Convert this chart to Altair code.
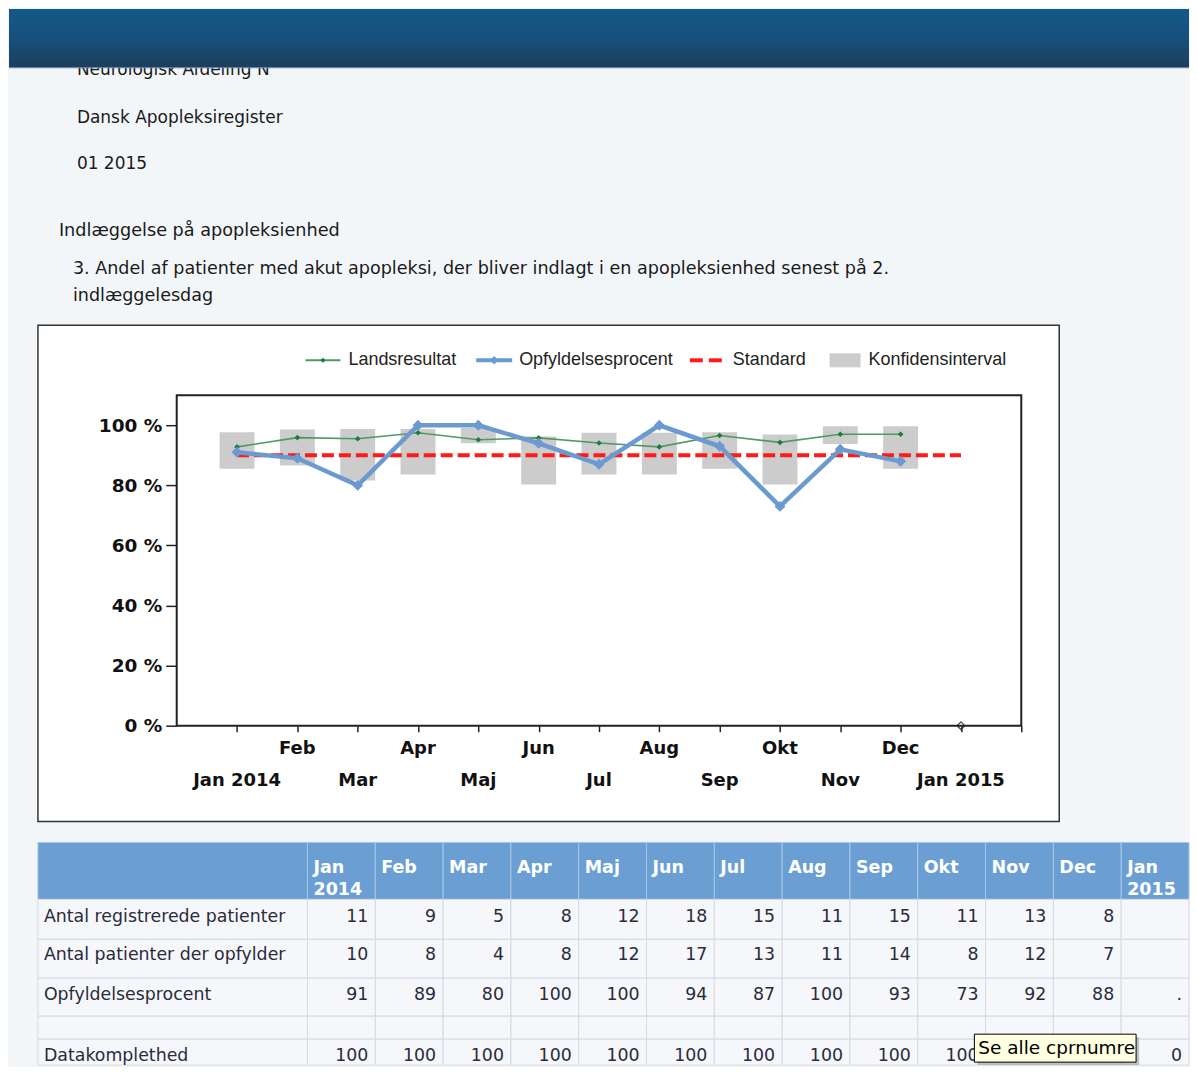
import altair as alt
import pandas as pd

# ---------------- data ----------------
months = ["Jan 2014", "Feb", "Mar", "Apr", "Maj", "Jun", "Jul", "Aug",
          "Sep", "Okt", "Nov", "Dec", "Jan 2015"]
opfyld = [91, 89, 80, 100, 100, 94, 87, 100, 93, 73, 92, 88]
lands = [92.8, 95.9, 95.5, 97.5, 95.2, 95.8, 94.1, 92.8, 96.6, 94.3, 97.0, 97.0]
ci_lo = [85.5, 86.6, 81.6, 83.6, 94.0, 80.3, 83.6, 83.6, 85.5, 80.3, 93.8, 85.5]
ci_hi = [97.7, 98.6, 98.8, 98.8, 99.1, 96.3, 97.5, 97.5, 97.7, 96.9, 99.7, 99.7]
standard = 90
missing_month = [12]
missing_value = [0]

hdr1 = ["Jan", "Feb", "Mar", "Apr", "Maj", "Jun", "Jul", "Aug", "Sep", "Okt", "Nov", "Dec", "Jan"]
hdr2 = ["2014", "", "", "", "", "", "", "", "", "", "", "", "2015"]
row_labels = ["Antal registrerede patienter", "Antal patienter der opfylder",
              "Opfyldelsesprocent", "", "Datakomplethed"]
registrerede = ["11", "9", "5", "8", "12", "18", "15", "11", "15", "11", "13", "8", ""]
opfylder = ["10", "8", "4", "8", "12", "17", "13", "11", "14", "8", "12", "7", ""]
procent = ["91", "89", "80", "100", "100", "94", "87", "100", "93", "73", "92", "88", "."]
tom = [""] * 13
komplet = ["100"] * 12 + ["0"]

page_texts = ["Neurologisk Afdeling N", "Dansk Apopleksiregister", "01 2015",
              "Indlæggelse på apopleksienhed",
              "3. Andel af patienter med akut apopleksi, der bliver indlagt i en apopleksienhed senest på 2.",
              "indlæggelesdag"]
legend_labels = ["Landsresultat", "Opfyldelsesprocent", "Standard", "Konfidensinterval"]
tooltip_text = "Se alle cprnumre"

# ---------------- style ----------------
DF = "DejaVu Sans"
LF = "Liberation Sans"
BG = "#f3f6f9"
BLUE = "#6a9ad0"
GREEN_L = "#4f9a62"
GREEN_P = "#1f7a3c"
RED = "#ff1a1a"
GRAY = "#cccccc"
HDR = "#6b9fd3"
W, H = 846, 331
RIGHT = 1014  # right edge of page content, relative to plot origin

one = pd.DataFrame({"k": [0]})


def txt(text, x, y, size=17, font=DF, weight="normal", color="#1a1a1a",
        align="left", baseline="alphabetic"):
    return alt.Chart(one).mark_text(
        text=text, font=font, fontSize=size, fontWeight=weight, color=color,
        align=align, baseline=baseline
    ).encode(x=alt.value(x), y=alt.value(y))


def box(x, x2, y, y2, **kw):
    return alt.Chart(one).mark_rect(**kw).encode(
        x=alt.value(x), x2=alt.value(x2), y=alt.value(y), y2=alt.value(y2))


def hrule(x, x2, y, **kw):
    return alt.Chart(one).mark_rule(**kw).encode(
        x=alt.value(x), x2=alt.value(x2), y=alt.value(y))


# ---------------- page decoration (behind) ----------------
grad = alt.LinearGradient(
    gradient="linear",
    stops=[alt.GradientStop(color="#13598a", offset=0),
           alt.GradientStop(color="#17507c", offset=0.5),
           alt.GradientStop(color="#1e3d5c", offset=1)],
    x1=0, x2=0, y1=0, y2=1)

LEG = 18
deco_back = alt.layer(
    txt(page_texts[0], -100, -321),
    box(-168, RIGHT, -387, -328, fill=grad),
    hrule(-168, RIGHT, -328, color="#6f93b5", strokeWidth=1),
    txt(page_texts[1], -100, -273),
    txt(page_texts[2], -100, -227),
    txt(page_texts[3], -118, -160, size=17.7),
    txt(page_texts[4], -104, -121, size=17.6),
    txt(page_texts[5], -104, -94, size=17.6),
    # chart frame
    box(-139, 884, -70, 427, fill="white", stroke="#333333", strokeWidth=1.5),
    # legend
    hrule(129, 164, -35, color=GREEN_L, strokeWidth=2),
    alt.Chart(one).mark_point(shape="diamond", filled=True, size=26, color=GREEN_P,
                              opacity=1).encode(x=alt.value(146.5), y=alt.value(-35)),
    txt(legend_labels[0], 172, -35, size=LEG, font=LF, color="#222", baseline="middle"),
    hrule(300, 336, -35, color=BLUE, strokeWidth=4),
    alt.Chart(one).mark_point(shape="diamond", filled=True, size=70, color=BLUE,
                              opacity=1).encode(x=alt.value(318), y=alt.value(-35)),
    txt(legend_labels[1], 343, -35, size=LEG, font=LF, color="#222", baseline="middle"),
    hrule(514, 527, -35, color=RED, strokeWidth=4),
    hrule(533, 546, -35, color=RED, strokeWidth=4),
    txt(legend_labels[2], 557, -35, size=LEG, font=LF, color="#222", baseline="middle"),
    box(654, 685, -42, -28, fill=GRAY),
    txt(legend_labels[3], 693, -35, size=LEG, font=LF, color="#222", baseline="middle"),
)

# ---------------- main chart ----------------
df = pd.DataFrame({"m": list(range(12)), "opf": opfyld, "lands": lands,
                   "lo": ci_lo, "hi": ci_hi})
std_df = pd.DataFrame({"m": list(range(13)), "v": [standard] * 13})
miss_df = pd.DataFrame({"m": missing_month, "v": missing_value})
lab_df = pd.DataFrame({"m": list(range(13)), "lab": months,
                       "row": [i % 2 for i in range(13)]})

xaxis = alt.Axis(values=list(range(0, 14)), labels=False, ticks=True, tickSize=6,
                 tickColor="#222", tickWidth=1.5, domain=False, grid=False, zindex=1)
yaxis = alt.Axis(values=[0, 20, 40, 60, 80, 100], labelExpr="datum.value + ' %'",
                 labelFont=DF, labelFontSize=18.5, labelFontWeight="bold",
                 labelColor="#111", tickSize=11, tickColor="#222", tickWidth=1.5,
                 labelPadding=4, domain=False, grid=False, zindex=1)
xs = alt.Scale(domain=[-1, 13], nice=False, zero=False, padding=0)
ys = alt.Scale(domain=[0, 110], nice=False, padding=0)


def X(f):
    return alt.X(f, scale=xs, axis=xaxis, title=None)


def Y(f):
    return alt.Y(f, scale=ys, axis=yaxis, title=None)


ci = alt.Chart(df).mark_bar(size=35, color=GRAY).encode(
    x=X("m:Q"), y=Y("lo:Q"), y2="hi:Q")
std = alt.Chart(std_df).mark_line(color=RED, strokeWidth=4, strokeDash=[12, 5]).encode(
    x=X("m:Q"), y=Y("v:Q"))
gl = alt.Chart(df).mark_line(color=GREEN_L, strokeWidth=1.6).encode(x=X("m:Q"), y=Y("lands:Q"))
gp = alt.Chart(df).mark_point(shape="diamond", filled=True, size=32, color=GREEN_P,
                              opacity=1).encode(x=X("m:Q"), y=Y("lands:Q"))
bl = alt.Chart(df).mark_line(color=BLUE, strokeWidth=4.5).encode(x=X("m:Q"), y=Y("opf:Q"))
bp = alt.Chart(df).mark_point(shape="diamond", filled=True, size=120, color=BLUE,
                              opacity=1).encode(x=X("m:Q"), y=Y("opf:Q"))
mp = alt.Chart(miss_df).mark_point(shape="diamond", filled=False, fill="white",
                                   stroke="#444", strokeWidth=1.2, size=60,
                                   opacity=1).encode(x=X("m:Q"), y=Y("v:Q"))
lab1 = alt.Chart(lab_df).transform_filter("datum.row == 1").mark_text(
    font=DF, fontSize=18, fontWeight="bold", color="#111", baseline="middle").encode(
    x=X("m:Q"), y=alt.value(354), text="lab:N")
lab0 = alt.Chart(lab_df).transform_filter("datum.row == 0").mark_text(
    font=DF, fontSize=18, fontWeight="bold", color="#111", baseline="middle").encode(
    x=X("m:Q"), y=alt.value(386), text="lab:N")
plotbox = box(0, W, 0, H, fill="transparent", stroke="#222", strokeWidth=2)

main = alt.layer(ci, std, gl, gp, bl, bp, mp, lab1, lab0, plotbox)

# ---------------- table ----------------
tdf = pd.DataFrame({"c": list(range(13)), "c2": list(range(1, 14)),
                    "h1": hdr1, "h2": hdr2, "r0": registrerede, "r1": opfylder,
                    "r2": procent, "r3": tom, "r4": komplet})
tx = alt.Scale(domain=[0, 13], range=[131, RIGHT], nice=False, zero=False, padding=0)
rows_y = [(505, 545), (545, 584), (584, 622), (622, 645), (645, 671)]
rows_mid = [523, 561, 601, 634, 662]
CELL = "#f5f7fa"
LINE = "#d5dbe3"
TXT = "#2b2b3a"
TS = 17.4

tlayers = [
    box(-139, 131, 448, 505, fill=HDR, stroke="#a9c6e6", strokeWidth=1),
    alt.Chart(tdf).mark_rect(fill=HDR, stroke="#a9c6e6", strokeWidth=1).encode(
        x=alt.X("c:Q", scale=tx, axis=None), x2="c2:Q",
        y=alt.value(448), y2=alt.value(505)),
    alt.Chart(tdf).mark_text(font=DF, fontSize=17.5, fontWeight="bold", color="white",
                             align="left", dx=6).encode(
        x=alt.X("c:Q", scale=tx, axis=None), y=alt.value(474), text="h1:N"),
    alt.Chart(tdf).mark_text(font=DF, fontSize=17.5, fontWeight="bold", color="white",
                             align="left", dx=6).encode(
        x=alt.X("c:Q", scale=tx, axis=None), y=alt.value(496), text="h2:N"),
]
for i, (y0, y1) in enumerate(rows_y):
    tlayers.append(box(-139, 131, y0, y1, fill=CELL, stroke=LINE, strokeWidth=1))
    tlayers.append(alt.Chart(tdf).mark_rect(fill=CELL, stroke=LINE, strokeWidth=1).encode(
        x=alt.X("c:Q", scale=tx, axis=None), x2="c2:Q",
        y=alt.value(y0), y2=alt.value(y1)))
    if row_labels[i]:
        tlayers.append(txt(row_labels[i], -133, rows_mid[i], size=TS, color=TXT,
                           baseline="middle"))
    tlayers.append(alt.Chart(tdf).mark_text(font=DF, fontSize=TS, color=TXT,
                                            align="right", baseline="middle", dx=-7).encode(
        x=alt.X("c2:Q", scale=tx, axis=None), y=alt.value(rows_mid[i]), text=f"r{i}:N"))

table = alt.layer(*tlayers)

# ---------------- front decoration (tooltip) ----------------
deco_front = alt.layer(
    box(802, 964, 643, 671, fill="#888888", opacity=0.5),
    box(799, 961, 640, 668, fill="#ffffe1", stroke="#000", strokeWidth=1),
    txt(tooltip_text, 803, 654, size=18.5, color="#000", baseline="middle"),
)

chart = alt.layer(deco_back, main, table, deco_front).resolve_scale(
    x="independent", y="independent"
).properties(width=W, height=H, padding=0).configure(
    background=BG
).configure_view(strokeWidth=0)

chart.save("out.html", embed_options={"renderer": "svg", "actions": False})
